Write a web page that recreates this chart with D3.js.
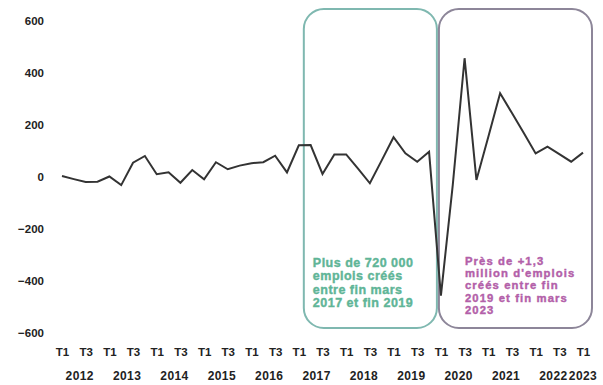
<!DOCTYPE html>
<html>
<head>
<meta charset="utf-8">
<script src="https://cdn.jsdelivr.net/npm/d3@7"></script>
<style>
  html, body { margin: 0; padding: 0; background: #fff; }
  svg { display: block; }
  text { font-family: "Liberation Sans", Arial, sans-serif; font-weight: bold; fill: #222; }
</style>
</head>
<body>
<svg id="chart" width="603" height="385"></svg>
<script>
// Quarterly job creation (thousands), 2012 T1 → 2023 T1
const years = [2012, 2013, 2014, 2015, 2016, 2017, 2018, 2019, 2020, 2021, 2022, 2023];
const quarterLabels = ["T1", "T2", "T3", "T4"];
const values = [
  0, -12, -23, -22,
  -2, -35, 51, 77,
  7, 14, -26, 23,
  -13, 53, 26, 40,
  49, 53, 78, 14,
  118, 119, 8, 83,
  83, 28, -28, 60,
  149, 87, 55, 93,
  -460, -35, 453, -15,
  150, 318, 242, 165,
  87, 113, 84, 55,
  90
];
const yTicks = [600, 400, 200, 0, -200, -400, -600];
const notes = [
  { from: 20, to: 32, lines: ["Plus de 720 000", "emplois créés", "entre fin mars", "2017 et fin 2019"] },
  { from: 32, to: 44, lines: ["Près de +1,3", "million d'emplois", "créés entre fin", "2019 et fin mars", "2023"] }
];

// Rows: one per quarter, with its year and quarter label
const rows = values.map((v, i) => ({
  i, v,
  year: years[Math.floor(i / 4)],
  q: quarterLabels[i % 4]
}));

const svg = d3.select("#chart");

const x = d3.scalePoint().domain(rows.map(d => d.i)).range([62, 583]);
const y = d3.scaleLinear().domain([-600, 600]).range([332, 20]);

// Annotation frames
const noteStyles = [
  { stroke: "#7fb8b0", text: "#5fb597", left: 5, right: -4, tx: 9, ty: 264, lh: 13.4, size: 12.5, ls: 0.5 },
  { stroke: "#8d8699", text: "#b35fa9", left: -2, right: 9, tx: 26, ty: 262, lh: 12.2, size: 11.3, ls: 1.1 }
];
notes.forEach((n, k) => {
  const s = noteStyles[k];
  const x0 = x(n.from) + s.left, x1 = x(n.to) + s.right;
  svg.append("rect")
    .attr("x", x0).attr("y", 9)
    .attr("width", x1 - x0).attr("height", 319)
    .attr("rx", 20).attr("ry", 20)
    .attr("fill", "none")
    .attr("stroke", s.stroke)
    .attr("stroke-width", 2);
  const t = svg.append("text")
    .attr("x", x0 + s.tx)
    .attr("y", s.ty)
    .attr("dominant-baseline", "middle")
    .style("font-size", s.size + "px")
    .style("letter-spacing", s.ls + "px")
    .style("fill", s.text)
    .style("stroke", s.text)
    .style("stroke-width", 0.4);
  n.lines.forEach((line, j) => {
    t.append("tspan").attr("x", x0 + s.tx).attr("y", s.ty + j * s.lh).text(line);
  });
});

const styleLabels = g => g.selectAll("text")
  .attr("dy", "0.35em")
  .style("font-size", "11.5px")
  .style("font-family", "'Liberation Sans', Arial, sans-serif")
  .style("font-weight", "bold")
  .attr("fill", "#222");

// Y axis labels (no axis line)
const yAxis = d3.axisLeft(y).tickValues(yTicks).tickSize(0).tickPadding(0).tickFormat(d3.format("d"));
svg.append("g")
  .attr("transform", "translate(44,0)")
  .call(yAxis)
  .call(g => g.select(".domain").remove())
  .call(styleLabels);

// Quarter labels (T1 and T3 only)
const xAxis = d3.axisBottom(x)
  .tickValues(rows.filter(d => d.i % 2 === 0).map(d => d.i))
  .tickSize(0).tickPadding(0)
  .tickFormat(i => rows[i].q);
svg.append("g")
  .attr("transform", "translate(0,352)")
  .call(xAxis)
  .call(g => g.select(".domain").remove())
  .call(styleLabels);

// Year labels centred on their quarters
const yearGroups = d3.groups(rows, d => d.year);
svg.append("g").selectAll("text")
  .data(yearGroups)
  .join("text")
  .attr("x", ([, qs]) => d3.mean(qs, d => x(d.i)))
  .attr("y", 377)
  .attr("text-anchor", "middle")
  .attr("dominant-baseline", "middle")
  .style("font-size", "12px")
  .style("letter-spacing", "0.4px")
  .text(([yr]) => yr);

// Series line
const line = d3.line().x(d => x(d.i)).y(d => y(d.v));
svg.append("path")
  .datum(rows)
  .attr("d", line)
  .attr("fill", "none")
  .attr("stroke", "#333")
  .attr("stroke-width", 2)
  .attr("stroke-linejoin", "miter");
</script>
</body>
</html>
